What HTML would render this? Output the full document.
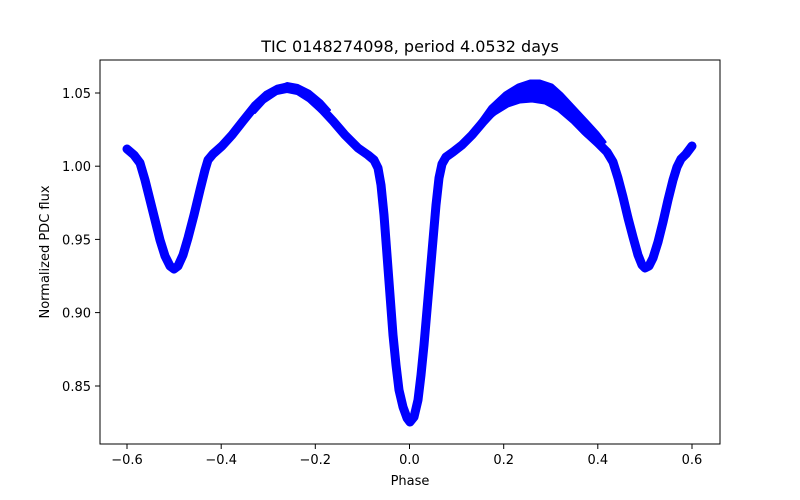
<!DOCTYPE html>
<html><head><style>body{margin:0;background:#fff}svg{display:block;font-family:"DejaVu Sans","Liberation Sans",sans-serif}</style></head><body>
<svg width="800" height="500" viewBox="0 0 800 500">
<rect width="800" height="500" fill="#fff"/>
<g fill="none" stroke="#0000ff" stroke-linejoin="round" stroke-linecap="round">
<polyline stroke-width="9" points="127,149 134,155 140,163 145,180 150,200 155,220 160,240 165,256 170,266 174,269 178,266 183,255 188,238 194,215 200,190 205,170 208,160 213,154 222,146 232,135 243,121 255,106 267,95 278,89 287,87 297,89 308,96 320,107 333,121 345,135 358,148 368,155 374,160 378,168 381,185 384,215 387,255 390,295 393,335 396,365 399,390 403,407 407,418 410,422 414,417 418,400 421,375 424,345 427,310 430,275 433,240 436,205 439,178 442,164 446,157 453,152 462,145 472,135 483,122 495,109 508,98 520,92 532,91 545,94 558,103 572,117 585,131 598,143 607,152 613,162 618,178 623,197 628,218 633,237 638,255 642,265 645,268 649,266 653,258 658,242 663,222 668,200 673,180 677,167 681,159 686,154 692,146"/>
<polygon fill="#0000ff" stroke="#0000ff" stroke-width="3" points="475,128 490,107 505,93 518,85 530,81 540,81 552,85 562,94 575,108 588,122 598,133 605,142 598,146 585,135 572,122 558,110 545,103 532,101 520,102 508,106 495,114 482,124"/>
<polygon fill="#0000ff" stroke="#0000ff" stroke-width="2" points="250,110 262,98 275,88 287,83 298,85 310,91 322,101 330,110 320,112 308,101 297,94 287,92 277,94 265,102 255,113"/>
</g>
<rect x="100" y="60" width="620" height="384" fill="none" stroke="#000" stroke-width="1"/>
<g stroke="#000" stroke-width="1">
<line x1="127" y1="444" x2="127" y2="449"/><line x1="221.2" y1="444" x2="221.2" y2="449"/><line x1="315.3" y1="444" x2="315.3" y2="449"/><line x1="409.5" y1="444" x2="409.5" y2="449"/><line x1="503.7" y1="444" x2="503.7" y2="449"/><line x1="597.8" y1="444" x2="597.8" y2="449"/><line x1="692" y1="444" x2="692" y2="449"/>
<line x1="95" y1="386" x2="100" y2="386"/><line x1="95" y1="312.6" x2="100" y2="312.6"/><line x1="95" y1="239.4" x2="100" y2="239.4"/><line x1="95" y1="166.2" x2="100" y2="166.2"/><line x1="95" y1="93" x2="100" y2="93"/>
</g>
<g font-size="13" fill="#000" text-anchor="middle">
<text x="127" y="464">−0.6</text><text x="221.2" y="464">−0.4</text><text x="315.3" y="464">−0.2</text><text x="409.5" y="464">0.0</text><text x="503.7" y="464">0.2</text><text x="597.8" y="464">0.4</text><text x="692" y="464">0.6</text>
</g>
<g font-size="13" fill="#000" text-anchor="end">
<text x="91" y="391">0.85</text><text x="91" y="317.6">0.90</text><text x="91" y="244.4">0.95</text><text x="91" y="171.2">1.00</text><text x="91" y="98">1.05</text>
</g>
<text x="410" y="485" font-size="13" text-anchor="middle">Phase</text>
<text transform="translate(49,252) rotate(-90)" font-size="13" text-anchor="middle">Normalized PDC flux</text>
<text x="410" y="52" font-size="16" text-anchor="middle">TIC 0148274098, period 4.0532 days</text>
</svg>
</body></html>
